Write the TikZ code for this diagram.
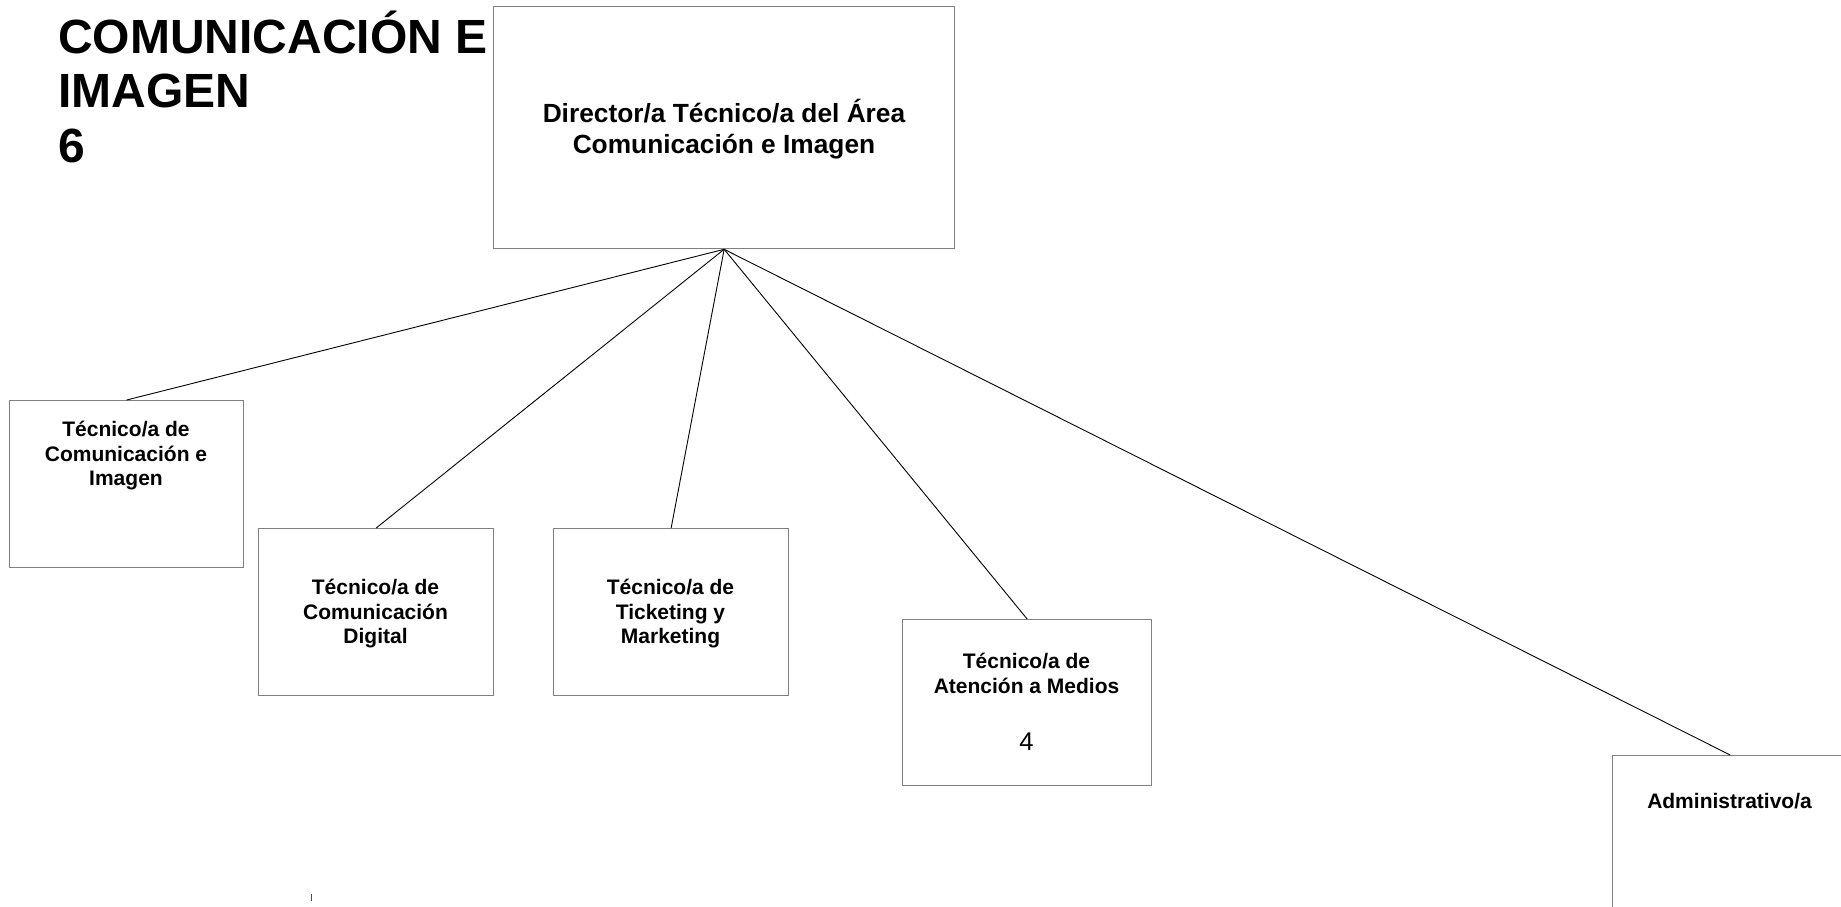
\documentclass[tikz,border=0pt]{standalone}
\usepackage{fontspec}
\setmainfont{Liberation Sans}
\definecolor{boxgray}{RGB}{128,128,128}
\begin{document}
\begin{tikzpicture}[x=1pt,y=-1pt,
  box/.style={draw=boxgray, line width=1.3pt, rectangle, inner sep=0pt, anchor=north west, minimum height=167pt},
  wire/.style={draw=black, line width=0.9pt},
  lbl/.style={font=\fontsize{21}{24.4}\selectfont\bfseries, align=center, anchor=base, inner sep=0pt},
]
\path[use as bounding box] (0,0) rectangle (1841,906);
\clip (0,0) rectangle (1841,906);

% title (anchor base = last line's baseline)
\node[font=\fontsize{48}{54.5}\selectfont\bfseries, align=left, anchor=base west, inner sep=0pt] (title) at (58,162.3) {COMUNICACIÓN E\\IMAGEN\\6};

% boxes
\node[box, minimum width=461pt, minimum height=242pt] (dir) at (493,6) {};
\node[box, minimum width=234pt] (b1) at (9,400) {};
\node[box, minimum width=235pt] (b2) at (258,528) {};
\node[box, minimum width=235pt] (b3) at (553,528) {};
\node[box, minimum width=249pt, minimum height=166pt] (b4) at (902,619) {};
\node[box, minimum width=235pt] (b5) at (1612,755) {};

% texts
\node[lbl, font=\fontsize{26.3}{30.4}\selectfont\bfseries] (tdir) at (724,153.3) {Director/a Técnico/a del Área\\Comunicación e Imagen};
\node[lbl] (t1) at (126,485.5) {Técnico/a de\\Comunicación e\\Imagen};
\node[lbl] (t2) at (375.5,643.5) {Técnico/a de\\Comunicación\\Digital};
\node[lbl] (t3) at (670.5,643.5) {Técnico/a de\\Ticketing y\\Marketing};
\node[lbl] (t4) at (1026.5,693.3) {Técnico/a de\\Atención a Medios};
\node[font=\fontsize{25.6}{28}\selectfont, anchor=base, inner sep=0pt] (n4) at (1026.5,750) {4};
\node[lbl] (t5) at (1729.5,808.8) {Administrativo/a};

% connectors
\draw[wire] (dir.south) -- (b1.north);
\draw[wire] (dir.south) -- (b2.north);
\draw[wire] (dir.south) -- (b3.north);
\draw[wire] (dir.south) -- (b4.north);
\draw[wire] (dir.south) -- (b5.north);

% stray tick
\draw[line width=1pt, draw=black!70] (311,894) -- (311,901);
\end{tikzpicture}
\end{document}
